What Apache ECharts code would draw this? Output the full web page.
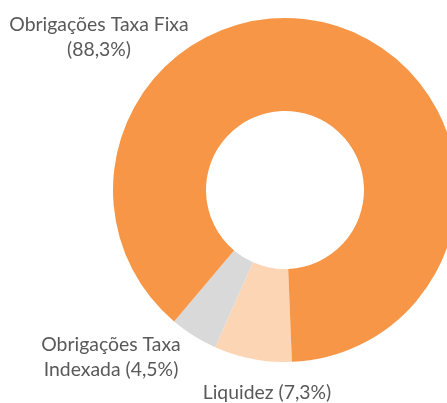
<!DOCTYPE html>
<html>
<head>
<meta charset="utf-8">
<script src="https://cdn.jsdelivr.net/npm/echarts@6/dist/echarts.min.js"></script>
<style>html,body{margin:0;padding:0;background:#fff;}#c{width:447px;height:403px;}</style>
</head>
<body>
<div id="c"></div>
<script>
const categories = ['Liquidez', 'Obrigações Taxa Indexada', 'Obrigações Taxa Fixa'];
const values = [7.3, 4.5, 88.3];
const labelTemplates = ['Liquidez ({v})', 'Obrigações Taxa\nIndexada ({v})', 'Obrigações Taxa Fixa\n({v})'];
const colors = ['#FCD5B5', '#D9D9D9', '#F79646'];
const labelPos = [[267, 393], [111, 357], [99, 37]];

const chart = echarts.init(document.getElementById('c'), null, {renderer: 'canvas'});
chart.setOption({
  animation: false,
  series: [{
    type: 'pie',
    center: [285, 190],
    radius: [79, 172],
    startAngle: -87.7,
    clockwise: true,
    avoidLabelOverlap: false,
    data: categories.map((n, i) => ({name: n, value: values[i], itemStyle: {color: colors[i]}})),
    itemStyle: {borderWidth: 0},
    label: {
      show: true,
      position: 'outside',
      formatter: p => labelTemplates[p.dataIndex].replace('{v}', p.value.toFixed(1).replace('.', ',') + '%'),
      fontFamily: 'Lato',
      fontSize: 19.4,
      lineHeight: 25,
      color: '#595959',
      align: 'center'
    },
    labelLine: {show: false},
    labelLayout: p => ({x: labelPos[p.dataIndex][0], y: labelPos[p.dataIndex][1], align: 'center', verticalAlign: 'middle'}),
    emphasis: {disabled: true}
  }]
});
</script>
</body>
</html>
